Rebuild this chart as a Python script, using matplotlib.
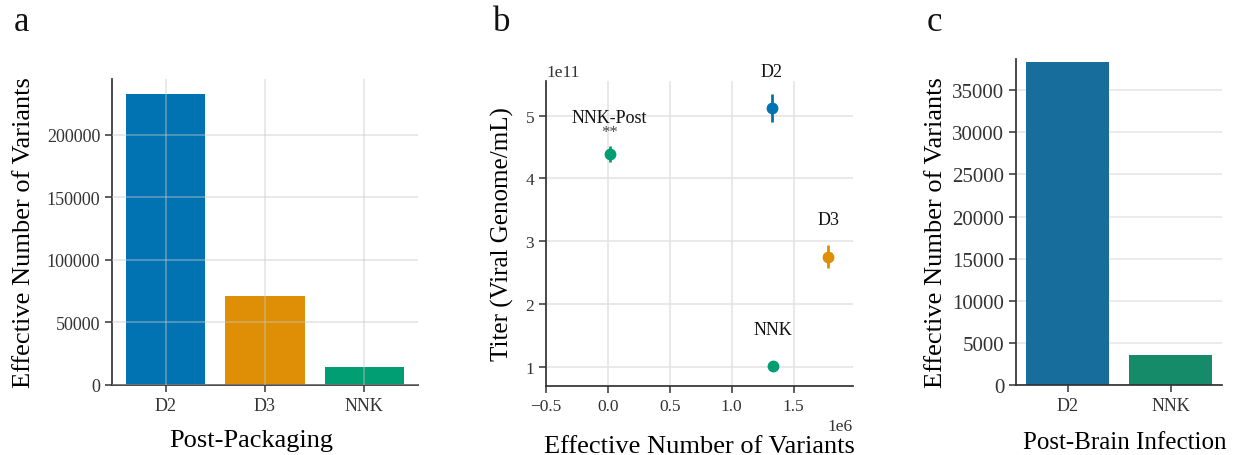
import matplotlib
matplotlib.use('Agg')
import matplotlib.pyplot as plt

plt.rcParams['font.family'] = 'serif'
plt.rcParams['font.serif'] = ['Liberation Serif', 'DejaVu Serif']
plt.rcParams['axes.edgecolor'] = '#333333'
plt.rcParams['xtick.color'] = '#333333'
plt.rcParams['ytick.color'] = '#333333'
plt.rcParams['text.color'] = '#111111'

# Panel a: post-packaging
pack_labels = ['D2', 'D3', 'NNK']
pack_values = [232700, 71300, 14600]
pack_colors = ['#0173b2', '#de8f05', '#029e73']

# Panel b: titer vs effective number of variants
lib_names = ['NNK-Post', 'D2', 'D3', 'NNK']
lib_variants = [14600, 1322000, 1779000, 1333000]
lib_titer = [4.384e11, 5.123e11, 2.754e11, 1.01e11]
lib_titer_err = [0.125e11, 0.225e11, 0.19e11, 0.05e11]
lib_colors = ['#029e73', '#0173b2', '#de8f05', '#029e73']

# Panel c: post-brain infection
brain_labels = ['D2', 'NNK']
brain_values = [38360, 3560]
brain_colors = ['#176d9c', '#168b6a']

fig = plt.figure(figsize=(12.39, 4.56), dpi=100)
W, H = 1239, 456

def add_px_axes(left, top, right, bottom):
    return fig.add_axes([left / W, (H - bottom) / H, (right - left) / W, (bottom - top) / H])

def style_axes(ax):
    for side in ['top', 'right']:
        ax.spines[side].set_visible(False)
    for side in ['left', 'bottom']:
        ax.spines[side].set_linewidth(1.25)
    ax.tick_params(length=5, width=1.1)

grid_kw = dict(color='#c8c8c8', alpha=0.5, linewidth=1.1)

# ---- a ----
ax1 = add_px_axes(112, 80, 418, 386)
ax1.bar(pack_labels, pack_values, width=0.8, color=pack_colors)
ax1.set_axisbelow(False)
ax1.grid(True, **grid_kw)
style_axes(ax1)
ax1.set_ylim(0, 244500)
ax1.tick_params(axis='y', labelsize=13)
ax1.tick_params(axis='x', labelsize=13)
ax1.set_ylabel('Effective Number of Variants', fontsize=19, labelpad=8)
ax1.set_xlabel('Post-Packaging', fontsize=19)
ax1.xaxis.set_label_coords(0.454, -0.145)

# ---- b ----
ax2 = add_px_axes(546, 81.5, 853, 387)
ax2.set_axisbelow(True)
ax2.grid(True, color='#e3e3e3', linewidth=1.1)
for x, y, e, c, name in zip(lib_variants, lib_titer, lib_titer_err, lib_colors, lib_names):
    ax2.errorbar(x, y, yerr=e, fmt='o', color=c, markersize=7.5, elinewidth=2, capsize=0, zorder=3)
    ax2.annotate(name, (x, y), xytext=(0, 26.5), textcoords='offset points',
                 ha='center', va='center', fontsize=13)
ax2.annotate('**', (lib_variants[0], lib_titer[0]), xytext=(0, 16), textcoords='offset points',
             ha='center', va='center', fontsize=12, color='#444444')
ax2.set_xlim(-0.5e6, 1.98e6)
ax2.set_ylim(0.69e11, 5.56e11)
ax2.set_xticks([-0.5e6, 0, 0.5e6, 1.0e6, 1.5e6])
ax2.set_yticks([1e11, 2e11, 3e11, 4e11, 5e11])
style_axes(ax2)
ax2.tick_params(labelsize=12.5)
ax2.xaxis.get_offset_text().set_fontsize(12.5)
ax2.yaxis.get_offset_text().set_fontsize(12.5)
ax2.set_ylabel('Titer (Viral Genome/mL)', fontsize=18, labelpad=8)
ax2.set_xlabel('Effective Number of Variants', fontsize=19, labelpad=15)

# ---- c ----
ax3 = add_px_axes(1016, 60, 1222, 386)
ax3.bar(brain_labels, brain_values, width=0.8, color=brain_colors)
ax3.set_axisbelow(True)
ax3.yaxis.grid(True, color='#e6e6e6', linewidth=1.1)
style_axes(ax3)
ax3.set_xlim(-0.5, 1.5)
ax3.set_ylim(0, 38700)
ax3.set_yticks(range(0, 35001, 5000))
ax3.tick_params(axis='y', labelsize=15)
ax3.tick_params(axis='x', labelsize=13)
ax3.set_ylabel('Effective Number of Variants', fontsize=19)
ax3.yaxis.set_label_coords(-0.335, 0.472)
ax3.set_xlabel('Post-Brain Infection', fontsize=18)
ax3.xaxis.set_label_coords(0.53, -0.14)

# panel letters
fig.text(14 / W, (H - 31) / H, 'a', fontsize=25, va='baseline')
fig.text(493 / W, (H - 31) / H, 'b', fontsize=25, va='baseline')
fig.text(927 / W, (H - 31) / H, 'c', fontsize=25, va='baseline')

fig.savefig('out.png', dpi=100)
